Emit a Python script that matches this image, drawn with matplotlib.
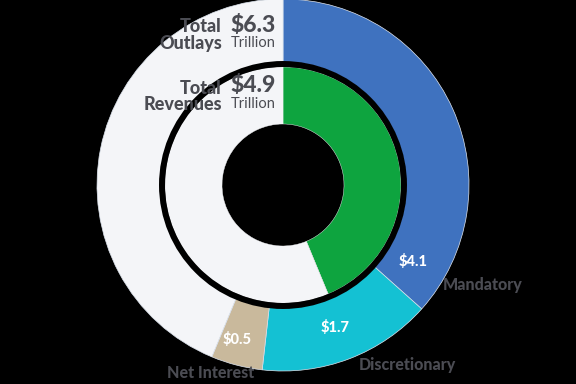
import matplotlib.pyplot as plt
from matplotlib.patches import Circle

# values in trillions of dollars
outlay_labels = ["Mandatory", "Discretionary", "Net Interest"]
outlay_values = [4.1, 1.7, 0.5]
outlay_total = 6.3
revenue_total = 4.9
full_circle = outlay_total + revenue_total  # scale used by both rings

outlay_colors = ["#3f72bf", "#14c1d3", "#c9b99c"]
ring_bg = "#f4f5f8"
revenue_color = "#0ea43f"
text_gray = "#4b4c53"

fig = plt.figure(figsize=(5.76, 3.84), dpi=100, facecolor="black")
ax = fig.add_axes([0, 0, 1, 1])
ax.set_facecolor("black")

cx, cy = 283, 199

# outer ring: outlays
outer_vals = outlay_values + [full_circle - outlay_total]
outer_cols = outlay_colors + [ring_bg]
ax.pie(
    outer_vals, colors=outer_cols, startangle=90, counterclock=False,
    center=(cx, cy), radius=186, frame=True,
    wedgeprops=dict(width=63, edgecolor="#dde4ee", linewidth=0.5),
)

# inner ring: revenues
ax.pie(
    [revenue_total, full_circle - revenue_total],
    colors=[revenue_color, ring_bg], startangle=90, counterclock=False,
    center=(cx, cy), radius=118, frame=True,
    wedgeprops=dict(width=57, edgecolor=ring_bg, linewidth=0.3),
)
ax.add_patch(Circle((cx, cy), 121, fill=False, edgecolor="black", linewidth=4.3))

ax.set_xlim(0, 576)
ax.set_ylim(0, 384)
ax.set_aspect("equal")
ax.axis("off")

bold = dict(family=["Lato", "DejaVu Sans"], fontweight="black")
light = dict(family=["Lato", "DejaVu Sans"], fontweight="normal")

# value labels on the wedges
value_pos = [(413, 122), (335, 56), (237, 45)]
for (x, y), v in zip(value_pos, outlay_values):
    ax.text(x, y, f"${v}", color="white", fontsize=10.5, ha="center", va="center", **bold)

# category labels outside
name_pos = [(483, 99), (407, 19), (211, 11)]
for (x, y), name in zip(name_pos, outlay_labels):
    ax.text(x, y, name, color=text_gray, fontsize=11.5, ha="center", va="center", **bold)

# totals
ax.text(222, 357, "Total", color=text_gray, fontsize=13, ha="right", va="center", **bold)
ax.text(222, 341, "Outlays", color=text_gray, fontsize=13, ha="right", va="center", **bold)
ax.text(230, 359, f"${outlay_total}", color=text_gray, fontsize=16.5, ha="left", va="center", **bold)
ax.text(231, 341, "Trillion", color=text_gray, fontsize=10.5, ha="left", va="center", **light)

ax.text(222, 296, "Total", color=text_gray, fontsize=13, ha="right", va="center", **bold)
ax.text(222, 280, "Revenues", color=text_gray, fontsize=13, ha="right", va="center", **bold)
ax.text(230, 298, f"${revenue_total}", color=text_gray, fontsize=16.5, ha="left", va="center", **bold)
ax.text(231, 280, "Trillion", color=text_gray, fontsize=10.5, ha="left", va="center", **light)

fig.savefig("out.png", dpi=100, facecolor="black")
